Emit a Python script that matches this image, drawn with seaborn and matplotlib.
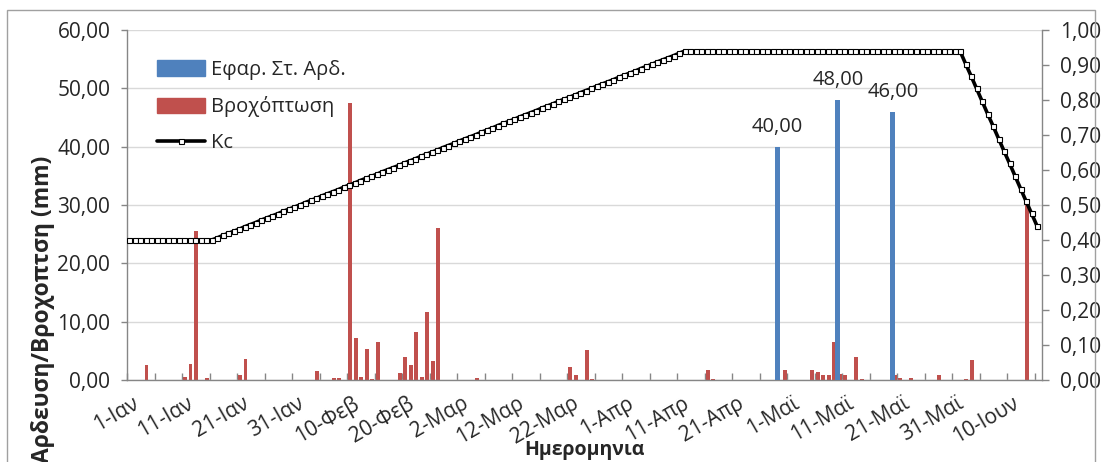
import numpy as np
import matplotlib
matplotlib.use("Agg")
import matplotlib.pyplot as plt
import matplotlib.transforms as mtransforms
import seaborn as sns
from matplotlib.patches import Patch, Rectangle
from matplotlib.lines import Line2D
from matplotlib.ticker import FuncFormatter, MultipleLocator

# ---------------- data ----------------
# day index: 0 = 1 Jan, 165 = 15 Jun
rain_day = [3, 10, 11, 12, 14, 20, 21, 34, 37, 38, 40, 41, 42, 43, 44, 45,
            49, 50, 51, 52, 53, 54, 55, 56, 63, 80, 81, 83, 84, 105, 106,
            119, 124, 125, 126, 127, 128, 129, 130, 132, 133, 139, 140, 142,
            147, 152, 153, 163]
rain_mm = [2.5, 0.6, 2.8, 25.5, 0.3, 0.9, 3.6, 1.5, 0.3, 0.4, 47.5, 7.2, 0.6, 5.3, 0.2, 6.5,
           1.2, 3.9, 2.5, 8.2, 0.6, 11.7, 3.2, 26.0, 0.4, 2.3, 0.8, 5.1, 0.1, 1.8, 0.2,
           1.8, 1.8, 1.4, 0.9, 0.9, 6.6, 1.0, 0.9, 3.9, 0.2, 0.8, 0.3, 0.4,
           0.8, 0.2, 3.5, 30.0]

irr_day = [118, 129, 139]
irr_mm = [40.0, 48.0, 46.0]

kc_initial = [0.40] * 15
kc_development = [0.400, 0.406, 0.413, 0.419, 0.425, 0.431, 0.438, 0.444, 0.450, 0.457,
                  0.463, 0.469, 0.475, 0.482, 0.488, 0.494, 0.500, 0.507, 0.513, 0.519,
                  0.526, 0.532, 0.538, 0.544, 0.551, 0.557, 0.563, 0.570, 0.576, 0.582,
                  0.588, 0.595, 0.601, 0.607, 0.613, 0.620, 0.626, 0.632, 0.639, 0.645,
                  0.651, 0.657, 0.664, 0.670, 0.676, 0.683, 0.689, 0.695, 0.701, 0.708,
                  0.714, 0.720, 0.727, 0.733, 0.739, 0.745, 0.752, 0.758, 0.764, 0.770,
                  0.777, 0.783, 0.789, 0.796, 0.802, 0.808, 0.814, 0.821, 0.827, 0.833,
                  0.840, 0.846, 0.852, 0.858, 0.865, 0.871, 0.877, 0.883, 0.890, 0.896,
                  0.902, 0.909, 0.915, 0.921, 0.927, 0.934, 0.940]
kc_mid = [0.94] * 49
kc_late = [0.940, 0.904, 0.869, 0.833, 0.797, 0.761, 0.726, 0.690, 0.654, 0.619,
           0.583, 0.547, 0.511, 0.476, 0.440]
kc = kc_initial + kc_development + kc_mid + kc_late

x_tick_labels = ["1-Ιαν", "11-Ιαν", "21-Ιαν", "31-Ιαν", "10-Φεβ", "20-Φεβ", "2-Μαρ",
                 "12-Μαρ", "22-Μαρ", "1-Απρ", "11-Απρ", "21-Απρ", "1-Μαϊ", "11-Μαϊ",
                 "21-Μαϊ", "31-Μαϊ", "10-Ιουν"]

series_names = ["Εφαρ. Στ. Αρδ.", "Βροχόπτωση", "Kc"]
y_label = "Αρδευση/Βροχοπτση (mm)"
x_label = "Ημερομηνια"

# ---------------- style ----------------
BLUE = "#4F81BD"
RED = "#C0504D"
GRID = "#D9D9D9"
AXC = "#868686"
TXT = "#262626"

sns.set_theme(style="white")
plt.rcParams['font.family'] = ['Open Sans', 'DejaVu Sans']

W, H = 1102, 462
fig = plt.figure(figsize=(W / 100, H / 100), dpi=100)
ax = fig.add_axes([127 / W, 82 / H, (1042 - 127) / W, 350 / H])

# bars
ax.bar(np.array(rain_day) + 0.55, rain_mm, width=0.7, color=RED, zorder=2, linewidth=0)
ax.bar(np.array(irr_day) + 0.2, irr_mm, width=0.9, color=BLUE, zorder=3, linewidth=0)
for d, v in zip(irr_day, irr_mm):
    ax.annotate(f"{v:.2f}".replace('.', ','), (d + 0.2, v), xytext=(0, 14.5),
                textcoords='offset points', ha='center', va='center',
                fontsize=14.5, color=TXT)

ax.set_xlim(0, 166.3)
ax.set_ylim(0, 60)
ax.yaxis.set_major_locator(MultipleLocator(10))
fmt = FuncFormatter(lambda v, p: f"{v:.2f}".replace('.', ','))
ax.yaxis.set_major_formatter(fmt)
ax.yaxis.grid(True, color=GRID, lw=1)
ax.xaxis.grid(False)
ax.set_axisbelow(True)

ax.set_xticks(np.arange(0, 161, 10))
ax.set_xticklabels(x_tick_labels, rotation=30, ha='right', va='top',
                   rotation_mode='anchor', fontsize=15, color=TXT)
ax.set_xticks(np.arange(0, 166, 5), minor=True)
ax.tick_params(axis='x', which='both', direction='in', length=5, color=AXC, width=1, pad=9,
               bottom=True)
ax.tick_params(axis='y', direction='out', length=4, color=AXC, width=1,
               labelsize=15, labelcolor=TXT, pad=8, left=True)
offset = mtransforms.ScaledTranslation(5 / 100, 0, fig.dpi_scale_trans)
for lab in ax.get_xticklabels():
    lab.set_transform(lab.get_transform() + offset)

for s in ['top', 'right']:
    ax.spines[s].set_visible(False)
for s in ['left', 'bottom']:
    ax.spines[s].set_color(AXC)
    ax.spines[s].set_linewidth(1)

# Kc on secondary axis
ax2 = ax.twinx()
days = np.arange(len(kc)) + 0.4
sns.lineplot(x=days, y=kc, ax=ax2, color='black', linewidth=2.6, marker='s',
             markersize=3.6, markerfacecolor='white', markeredgecolor='black',
             markeredgewidth=0.8, legend=False, zorder=5)
ax2.set_ylim(0, 1)
ax2.set_xlim(0, 166.3)
ax2.yaxis.set_major_locator(MultipleLocator(0.1))
ax2.yaxis.set_major_formatter(fmt)
ax2.tick_params(axis='y', direction='out', length=5, color=AXC, width=1,
                labelsize=15, labelcolor=TXT, pad=8, right=True)
ax2.set_ylabel("")
for s in ['top', 'left', 'bottom']:
    ax2.spines[s].set_visible(False)
ax2.spines['right'].set_color(AXC)
ax2.spines['right'].set_linewidth(1)
ax2.grid(False)

# legend
handles = [Patch(color=BLUE), Patch(color=RED),
           Line2D([0], [0], color='black', lw=2.6, marker='s', markersize=3.6,
                  markerfacecolor='white', markeredgecolor='black', markeredgewidth=0.8)]
ax2.legend(handles, series_names, loc='upper left', bbox_to_anchor=(0.0328, 0.914),
           frameon=False, fontsize=14.5, handlelength=2.4, handleheight=0.8,
           labelspacing=0.8, handletextpad=0.3, borderaxespad=0, borderpad=0,
           labelcolor=TXT)

# axis titles
fig.text(43 / W, 0.33, y_label, rotation=90, ha='center', va='center',
         fontsize=16.5, fontweight='bold', color=TXT)
fig.text(584 / W, (H - 450) / H, x_label, ha='center', va='center',
         fontsize=14, fontweight='bold', color=TXT)

# chart border
fig.patches.append(Rectangle((7 / W, -0.05), (1095 - 7) / W, (H - 10) / H + 0.05,
                             transform=fig.transFigure, fill=False, ec='#A0A0A0', lw=1))

fig.savefig("out.png", dpi=100)
